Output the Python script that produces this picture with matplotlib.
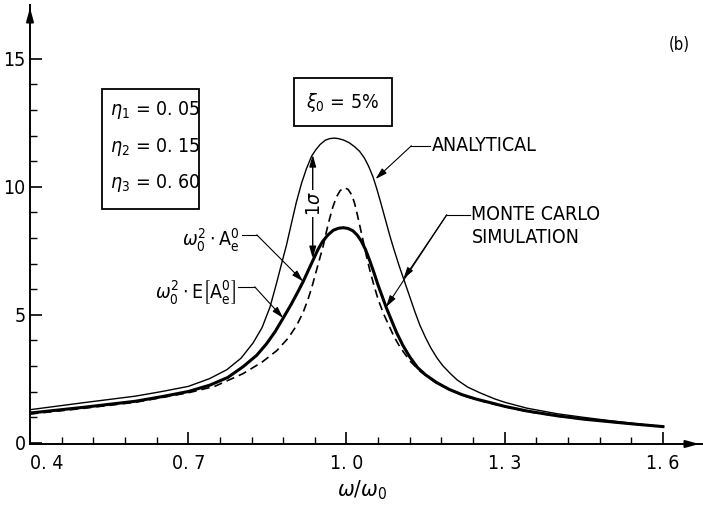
import numpy as np
import matplotlib
matplotlib.use('Agg')
import matplotlib.pyplot as plt
from matplotlib.patches import Rectangle

plt.rcParams['font.family'] = ['DejaVu Sans']
plt.rcParams['font.stretch'] = 'condensed'
plt.rcParams['mathtext.fontset'] = 'dejavusans'

# analytical (thin solid)
w_ana = [0.40, 0.50, 0.60, 0.65, 0.70, 0.74, 0.773, 0.80, 0.823, 0.84, 0.855, 0.867, 0.877,
         0.886, 0.896, 0.905, 0.915, 0.924, 0.934, 0.942, 0.95, 0.96, 0.968, 0.977, 0.985,
         0.995, 1.005, 1.015, 1.025, 1.034, 1.042, 1.05, 1.057, 1.064, 1.07, 1.076, 1.082,
         1.09, 1.10, 1.11, 1.12, 1.13, 1.139, 1.15, 1.16, 1.172, 1.183, 1.197, 1.21, 1.23,
         1.253, 1.28, 1.30, 1.342, 1.40, 1.45, 1.50, 1.55, 1.60]
a_ana = [1.29, 1.56, 1.82, 2.0, 2.2, 2.5, 2.85, 3.3, 3.9, 4.5, 5.3, 6.2, 7.0,
         7.7, 8.6, 9.4, 10.15, 10.7, 11.2, 11.45, 11.65, 11.82, 11.88, 11.9, 11.88,
         11.82, 11.72, 11.57, 11.38, 11.12, 10.8, 10.4, 9.95, 9.45, 9.0, 8.55, 8.1,
         7.55, 6.9, 6.3, 5.7, 5.1, 4.6, 4.1, 3.7, 3.3, 3.0, 2.7, 2.45, 2.17,
         1.95, 1.72, 1.58, 1.35, 1.13, 0.99, 0.86, 0.74, 0.63]

# monte carlo mean  w0^2 E[Ae0] (thick solid)
w_mean = [0.40, 0.50, 0.60, 0.65, 0.70, 0.741, 0.775, 0.804, 0.83, 0.849, 0.865, 0.88,
          0.895, 0.908, 0.918, 0.928, 0.937, 0.946, 0.955, 0.965, 0.975, 0.985, 0.994,
          1.003, 1.012, 1.02, 1.028, 1.036, 1.044, 1.052, 1.06, 1.068, 1.076, 1.085,
          1.095, 1.107, 1.12, 1.135, 1.15, 1.171, 1.195, 1.22, 1.245, 1.266, 1.30,
          1.342, 1.40, 1.45, 1.50, 1.55, 1.60]
a_mean = [1.16, 1.38, 1.62, 1.8, 2.0, 2.25, 2.55, 2.97, 3.42, 3.88, 4.35, 4.87,
          5.4, 5.9, 6.3, 6.75, 7.15, 7.55, 7.87, 8.12, 8.3, 8.38, 8.4,
          8.37, 8.28, 8.12, 7.88, 7.55, 7.12, 6.65, 6.15, 5.7, 5.25, 4.8,
          4.3, 3.8, 3.35, 2.93, 2.65, 2.35, 2.08, 1.87, 1.71, 1.6, 1.42,
          1.24, 1.05, 0.92, 0.82, 0.72, 0.63]

# w0^2 Ae0 (dashed)
w_nom = [0.40, 0.50, 0.60, 0.70, 0.75, 0.804, 0.84, 0.868, 0.89, 0.906, 0.918, 0.927,
         0.934, 0.94, 0.948, 0.956, 0.962, 0.968, 0.974, 0.981, 0.988, 0.996, 1.003,
         1.01, 1.015, 1.019, 1.025, 1.032, 1.038, 1.044, 1.052, 1.06, 1.07, 1.08, 1.09,
         1.101, 1.12, 1.139, 1.171, 1.22, 1.266, 1.30, 1.342, 1.40, 1.45, 1.50, 1.55, 1.60]
a_nom = [1.12, 1.34, 1.58, 1.95, 2.2, 2.7, 3.15, 3.6, 4.1, 4.6, 5.1, 5.6,
         6.05, 6.5, 7.1, 7.7, 8.25, 8.75, 9.2, 9.6, 9.85, 9.96, 9.9,
         9.68, 9.38, 9.05, 8.5, 7.85, 7.28, 6.76, 6.15, 5.6, 5.05, 4.6, 4.15,
         3.75, 3.2, 2.8, 2.32, 1.85, 1.57, 1.41, 1.22, 1.04, 0.92, 0.81, 0.72, 0.63]

x_major = [0.4, 0.7, 1.0, 1.3, 1.6]
x_labels = ['0. 4', '0. 7', '1. 0', '1. 3', '1. 6']
y_major = [0, 5, 10, 15]

fig = plt.figure(figsize=(7.03, 5.08), dpi=100)
ax = fig.add_axes([30/703, 64/508, 672/703, 439/508])
ax.set_xlim(0.4, 1.674)
ax.set_ylim(-0.05, 17.1)

ax.plot(w_ana, a_ana, color='black', lw=1.0)
ax.plot(w_mean, a_mean, color='black', lw=2.2)
ln, = ax.plot(w_nom, a_nom, color='black', lw=1.2)
ln.set_dashes((5, 3))

for s in ['top', 'right']:
    ax.spines[s].set_visible(False)
for s in ['left', 'bottom']:
    ax.spines[s].set_linewidth(1.4)

# axis arrows
ax.annotate('', xy=(1.0, 0), xytext=(0.97, 0), xycoords='axes fraction',
            arrowprops=dict(arrowstyle='-|>,head_length=0.8,head_width=0.22', color='black', lw=1.4))
ax.annotate('', xy=(0, 1.0), xytext=(0, 0.96), xycoords='axes fraction',
            arrowprops=dict(arrowstyle='-|>,head_length=0.8,head_width=0.22', color='black', lw=1.4))

ax.set_xticks(x_major)
ax.set_xticklabels(x_labels)
ax.get_xticklabels()[0].set_horizontalalignment('left')
ax.set_xticks([x for x in np.arange(0.46, 1.56, 0.06) if min(abs(x - m) for m in x_major) > 0.01], minor=True)
ax.set_yticks(y_major)
ax.set_yticks([v for v in range(1, 15) if v % 5], minor=True)
ax.tick_params(which='major', direction='in', length=8.5, width=1.2, labelsize=14, pad=3)
ax.tick_params(axis='x', which='major', pad=7)
ax.tick_params(which='minor', direction='in', length=5, width=1.0)

fig.text(362/703, 1 - 490/508, r'$\omega/\omega_0$', fontsize=16, ha='center', va='center')
fig.text(679/703, 1 - 45/508, '(b)', fontsize=12, ha='center', va='center')

# eta box
ax.add_patch(Rectangle((0.536, 9.14), 0.184, 4.69, fill=False, lw=1.3, color='black'))
for v, s in zip([13.0, 11.56, 10.16], [r'$\eta_1$ = 0. 05', r'$\eta_2$ = 0. 15', r'$\eta_3$ = 0. 60']):
    ax.text(0.552, v, s, fontsize=14, va='center', ha='left')

# xi box
ax.add_patch(Rectangle((0.900, 12.38), 0.186, 1.88, fill=False, lw=1.3, color='black'))
ax.text(0.993, 13.3, r'$\xi_0$ = 5%', fontsize=14, ha='center', va='center')

arr = dict(arrowstyle='-|>,head_length=0.7,head_width=0.2', color='black', lw=0.8, shrinkA=0, shrinkB=0)

# ANALYTICAL
ax.text(1.162, 11.6, 'ANALYTICAL', fontsize=14, va='center', ha='left')
ax.plot([1.158, 1.123], [11.6, 11.6], color='black', lw=0.8)
ax.annotate('', xy=(1.055, 10.3), xytext=(1.123, 11.6), arrowprops=arr)

# MONTE CARLO
ax.text(1.236, 8.9, 'MONTE CARLO', fontsize=14, va='center', ha='left')
ax.text(1.238, 8.0, 'SIMULATION', fontsize=14, va='center', ha='left')
ax.plot([1.234, 1.19], [8.9, 8.9], color='black', lw=0.8)
ax.annotate('', xy=(1.108, 6.4), xytext=(1.19, 8.9), arrowprops=arr)
ax.annotate('', xy=(1.075, 5.3), xytext=(1.19, 8.9), arrowprops=arr)

# left labels
ax.text(0.798, 7.9, r'$\omega_0^2\cdot\mathrm{A}_\mathrm{e}^0$', fontsize=14, ha='right', va='center')
ax.plot([0.801, 0.83], [8.12, 8.12], color='black', lw=0.8)
ax.annotate('', xy=(0.918, 6.3), xytext=(0.83, 8.12), arrowprops=arr)

ax.text(0.79, 5.9, r'$\omega_0^2\cdot\mathrm{E}\left[\mathrm{A}_\mathrm{e}^0\right]$', fontsize=14, ha='right', va='center')
ax.plot([0.794, 0.826], [6.09, 6.09], color='black', lw=0.8)
ax.annotate('', xy=(0.88, 4.87), xytext=(0.826, 6.09), arrowprops=arr)

# 1 sigma
ax.annotate('', xy=(0.936, 11.25), xytext=(0.936, 7.2),
            arrowprops=dict(arrowstyle='<|-|>,head_length=0.7,head_width=0.2', color='black', lw=1.0,
                            shrinkA=0, shrinkB=0))
ax.text(0.939, 9.35, r'1$\sigma$', fontsize=14, rotation=90, ha='center', va='center',
        bbox=dict(facecolor='white', edgecolor='none', pad=0.5))

fig.savefig('out.png', dpi=100)
